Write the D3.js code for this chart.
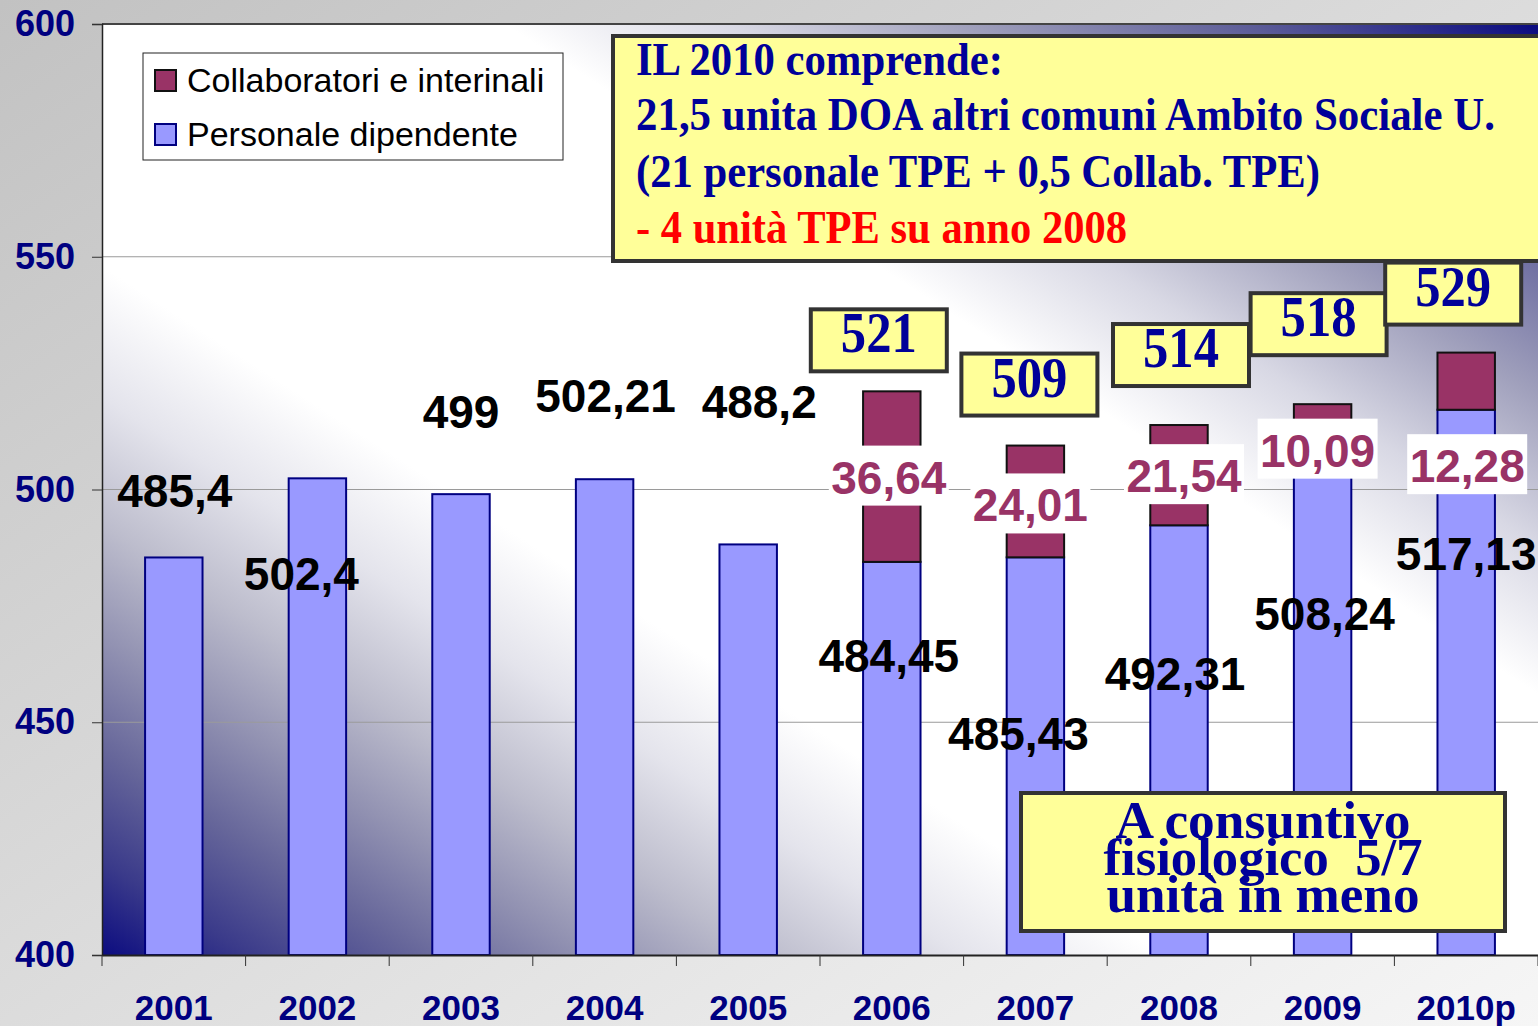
<!DOCTYPE html>
<html>
<head>
<meta charset="utf-8">
<script src="https://cdn.jsdelivr.net/npm/d3@7"></script>
<style>
    html, body { margin: 0; padding: 0; overflow: hidden; }
    .chart { width: 1538px; height: 1026px; }
</style>
</head>
<body>
<div id="bar_chart" class="chart"></div>
<script>

// data
const categories = ["2001", "2002", "2003", "2004", "2005", "2006", "2007", "2008", "2009", "2010p"];
const personale = [485.4, 502.4, 499, 502.21, 488.2, 484.45, 485.43, 492.31, 508.24, 517.13];
const collaboratori = [0, 0, 0, 0, 0, 36.64, 24.01, 21.54, 10.09, 12.28];
const yTicks = [400, 450, 500, 550, 600];
const seriesNames = ["Collaboratori e interinali", "Personale dipendente"];

const noteLines = [
    "IL 2010 comprende:",
    "21,5 unita DOA altri comuni Ambito Sociale U.",
    "(21 personale TPE + 0,5 Collab. TPE)",
    "- 4 unità TPE su anno 2008"
];
const footNote = ["A consuntivo", "fisiologico  5/7", "unità in meno"];

// hand placed label nudges (px), as on the original slide
const persLabelOff = [[1, -50], [-16, 112], [0, -66], [1, -67], [11, -126], [-3, 110], [-17, 193], [-4, 165], [2, 179], [0, 160]];
const collabLabelOff = [null, null, null, null, null, [-3, 0], [-5, 3], [5, 0], [-5, 22], [1, 84]];
const totalBoxOff = [null, null, null, null, null, [-13, -20], [-6, -30], [2, -39], [-4, -49], [-13, -28]];

function barChartDraw() {

    let width = 1538,
        height = 1026;
    let margin = {top: 24, right: 0, bottom: 71, left: 102};

    let svg = d3.select("#bar_chart")
        .append("svg")
        .attr("width", width)
        .attr("height", height);

    let defs = svg.append("defs");

    // slide background
    let bg = defs.append("linearGradient")
        .attr("id", "slideBg")
        .attr("x1", 0).attr("y1", 0).attr("x2", 1).attr("y2", 1);
    bg.append("stop").attr("offset", 0).attr("stop-color", "#c2c2c2");
    bg.append("stop").attr("offset", 1).attr("stop-color", "#f6f6f6");

    // plot area: navy in bottom-left and top-right corners, white across the middle
    let pg = defs.append("linearGradient")
        .attr("id", "plotBg")
        .attr("x1", 0).attr("y1", 1).attr("x2", 1).attr("y2", 0);
    [[0, "#0c0c80"], [0.05, "#3a3a8a"], [0.11, "#66669a"], [0.17, "#9292b2"], [0.23, "#bcbccc"],
     [0.3, "#e4e4ec"], [0.37, "#ffffff"], [0.64, "#ffffff"], [0.72, "#d8d8e4"], [0.8, "#a0a0bc"],
     [0.9, "#5c5c98"], [1, "#0a0a80"]].forEach(function (s) {
        pg.append("stop").attr("offset", s[0]).attr("stop-color", s[1]);
    });

    svg.append("rect")
        .attr("width", width).attr("height", height)
        .attr("fill", "url(#slideBg)");

    let innerW = width - margin.left - margin.right,
        innerH = height - margin.top - margin.bottom;

    let x = d3.scaleBand()
        .domain(categories)
        .range([margin.left, margin.left + innerW])
        .paddingInner(0.6)
        .paddingOuter(0.3);

    let y = d3.scaleLinear()
        .domain([400, 600])
        .range([margin.top + innerH, margin.top]);

    svg.append("rect")
        .attr("x", margin.left).attr("y", margin.top)
        .attr("width", innerW).attr("height", innerH)
        .attr("fill", "url(#plotBg)");

    // gridlines
    svg.append("g")
        .selectAll("line")
        .data(yTicks.slice(1, -1))
        .enter()
        .append("line")
        .attr("x1", margin.left).attr("x2", margin.left + innerW)
        .attr("y1", d => y(d)).attr("y2", d => y(d))
        .attr("stroke", "#9a9a9a")
        .attr("stroke-width", 1);

    // top border of plot
    svg.append("line")
        .attr("x1", margin.left).attr("x2", width)
        .attr("y1", y(600)).attr("y2", y(600))
        .attr("stroke", "#444").attr("stroke-width", 2);

    // stacked bars
    let table = categories.map(function (c, i) {
        return {cat: c, personale: personale[i], collaboratori: collaboratori[i]};
    });
    let stack = d3.stack().keys(["personale", "collaboratori"])(table);
    let fills = {personale: "#9999ff", collaboratori: "#993366"};
    let strokes = {personale: "#000080", collaboratori: "#111"};

    stack.forEach(function (layer) {
        svg.append("g")
            .selectAll("rect")
            .data(layer.filter(d => d[1] - d[0] > 0))
            .enter()
            .append("rect")
            .attr("x", d => x(d.data.cat))
            .attr("width", x.bandwidth())
            .attr("y", d => y(d[1]))
            .attr("height", d => y(Math.max(d[0], 400)) - y(d[1]))
            .attr("fill", fills[layer.key])
            .attr("stroke", strokes[layer.key])
            .attr("stroke-width", 2);
    });

    // axes
    let yAxis = svg.append("g")
        .attr("transform", "translate(" + margin.left + ",0)")
        .call(d3.axisLeft(y).tickValues(yTicks).tickSize(10).tickPadding(17));
    yAxis.select(".domain").attr("stroke", "#222").attr("stroke-width", 1.5);
    yAxis.selectAll(".tick line").attr("stroke", "#333");
    yAxis.selectAll("text")
        .attr("fill", "#000080")
        .style("font", "bold 36px 'Liberation Sans', Arial, sans-serif");

    let xAxis = svg.append("g")
        .attr("transform", "translate(0," + (margin.top + innerH) + ")")
        .call(d3.axisBottom(x).tickSize(0).tickPadding(40));
    xAxis.select(".domain").attr("stroke", "#222").attr("stroke-width", 2);
    xAxis.selectAll("text")
        .attr("fill", "#000080")
        .style("font", "bold 35px 'Liberation Sans', Arial, sans-serif");

    // category separators on the x axis
    let step = x.step();
    svg.append("g")
        .selectAll("line")
        .data(d3.range(categories.length + 1))
        .enter()
        .append("line")
        .attr("x1", i => margin.left + i * step)
        .attr("x2", i => margin.left + i * step)
        .attr("y1", margin.top + innerH)
        .attr("y2", margin.top + innerH + 11)
        .attr("stroke", "#333");

    let fmt = v => String(v).replace(".", ",");
    let cx = c => x(c) + x.bandwidth() / 2;

    // black labels for personale dipendente
    svg.append("g")
        .selectAll("text")
        .data(table)
        .enter()
        .append("text")
        .attr("x", (d, i) => cx(d.cat) + persLabelOff[i][0])
        .attr("y", (d, i) => y(d.personale) + persLabelOff[i][1])
        .attr("text-anchor", "middle")
        .style("font", "bold 46px 'Liberation Sans', Arial, sans-serif")
        .attr("fill", "#000")
        .text(d => fmt(d.personale));

    // magenta labels with white background for collaboratori
    let cl = svg.append("g")
        .selectAll("g")
        .data(table.filter(d => d.collaboratori > 0))
        .enter()
        .append("g")
        .attr("transform", function (d) {
            let i = categories.indexOf(d.cat);
            let mid = y(d.personale + d.collaboratori / 2);
            return "translate(" + (cx(d.cat) + collabLabelOff[i][0]) + "," + (mid + collabLabelOff[i][1]) + ")";
        });
    cl.append("rect")
        .attr("x", -60).attr("y", -31)
        .attr("width", 120).attr("height", 60)
        .attr("fill", "#fff");
    cl.append("text")
        .attr("text-anchor", "middle")
        .attr("y", 17)
        .style("font", "bold 46px 'Liberation Sans', Arial, sans-serif")
        .attr("fill", "#993366")
        .text(d => fmt(d.collaboratori));

    // top-right note (runs past the right edge, as on the slide)
    let note = svg.append("g");
    note.append("rect")
        .attr("x", 613).attr("y", 36)
        .attr("width", 960).attr("height", 225)
        .attr("fill", "#ffff99")
        .attr("stroke", "#333")
        .attr("stroke-width", 4);
    let noteBase = [75, 130, 187, 243],
        noteLen = [367, 859, 684, 491];
    note.selectAll("text")
        .data(noteLines)
        .enter()
        .append("text")
        .attr("x", 636)
        .attr("y", (d, i) => noteBase[i])
        .attr("textLength", (d, i) => noteLen[i])
        .attr("lengthAdjust", "spacingAndGlyphs")
        .attr("fill", (d, i) => i === 3 ? "#ff0000" : "#000099")
        .style("font", "bold 46px 'Liberation Serif', 'Times New Roman', serif")
        .text(d => d);

    // totals in yellow boxes
    let tb = svg.append("g")
        .selectAll("g")
        .data(table.filter(d => d.collaboratori > 0))
        .enter()
        .append("g")
        .attr("transform", function (d) {
            let i = categories.indexOf(d.cat);
            return "translate(" + (cx(d.cat) + totalBoxOff[i][0]) + "," + (y(d.personale + d.collaboratori) + totalBoxOff[i][1]) + ")";
        });
    tb.append("rect")
        .attr("x", -68).attr("y", -62)
        .attr("width", 136).attr("height", 62)
        .attr("fill", "#ffff99")
        .attr("stroke", "#333")
        .attr("stroke-width", 4);
    tb.append("text")
        .attr("text-anchor", "middle")
        .attr("y", -19)
        .attr("textLength", 76)
        .attr("lengthAdjust", "spacingAndGlyphs")
        .attr("fill", "#000099")
        .style("font", "bold 56px 'Liberation Serif', 'Times New Roman', serif")
        .text(d => Math.round(d.personale + d.collaboratori));

    // bottom note
    let foot = svg.append("g");
    foot.append("rect")
        .attr("x", 1021).attr("y", 793)
        .attr("width", 484).attr("height", 138)
        .attr("fill", "#ffff99")
        .attr("stroke", "#333")
        .attr("stroke-width", 4);
    let footBase = [838, 875, 912],
        footLen = [295, 319, 313];
    foot.selectAll("text")
        .data(footNote)
        .enter()
        .append("text")
        .attr("x", 1263)
        .attr("y", (d, i) => footBase[i])
        .attr("text-anchor", "middle")
        .attr("textLength", (d, i) => footLen[i])
        .attr("lengthAdjust", "spacingAndGlyphs")
        .attr("fill", "#000099")
        .style("white-space", "pre")
        .style("font", "bold 52px 'Liberation Serif', 'Times New Roman', serif")
        .text(d => d);

    // legend
    let legend = svg.append("g");
    legend.append("rect")
        .attr("x", 143).attr("y", 53)
        .attr("width", 420).attr("height", 107)
        .attr("fill", "#fff")
        .attr("stroke", "#222")
        .attr("stroke-width", 1);
    let legFill = ["#993366", "#9999ff"],
        legStroke = ["#111", "#000080"];
    let items = legend.selectAll("g")
        .data(seriesNames)
        .enter()
        .append("g")
        .attr("transform", (d, i) => "translate(155," + (70 + i * 54) + ")");
    items.append("rect")
        .attr("width", 21).attr("height", 21)
        .attr("fill", (d, i) => legFill[i])
        .attr("stroke", (d, i) => legStroke[i])
        .attr("stroke-width", 2);
    items.append("text")
        .attr("x", 32).attr("y", 22)
        .style("font", "34px 'Liberation Sans', Arial, sans-serif")
        .attr("fill", "#000")
        .text(d => d);
}

barChartDraw();
</script>
</body>
</html>
